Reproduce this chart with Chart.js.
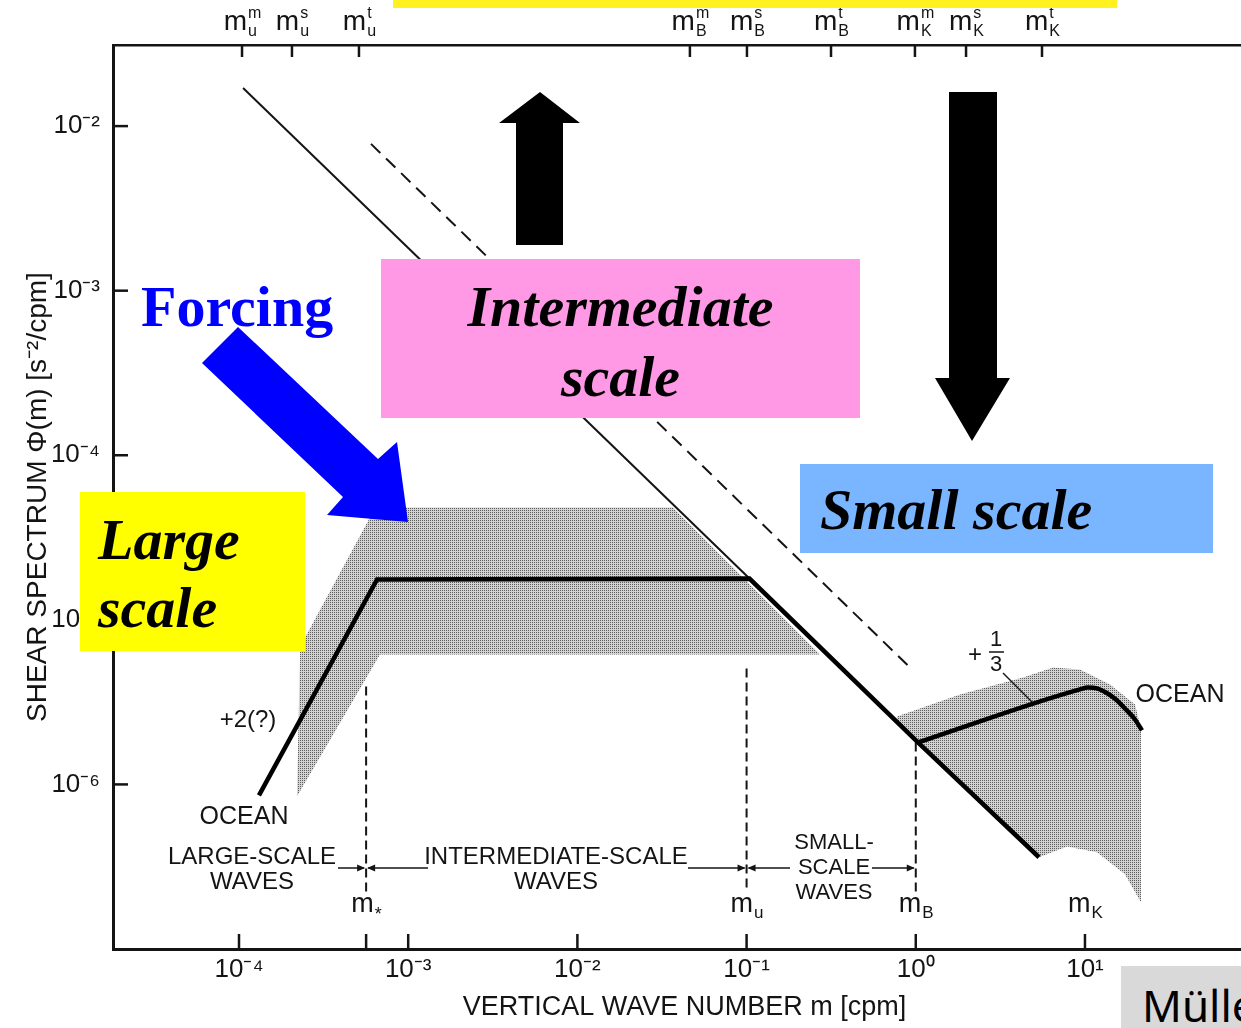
<!DOCTYPE html>
<html>
<head>
<meta charset="utf-8">
<script src="https://cdn.jsdelivr.net/npm/chart.js@4.4.1/dist/chart.umd.min.js"></script>
<style>
  html, body { margin: 0; padding: 0; background: #fff; }
  #wrap { position: relative; width: 1241px; height: 1028px; overflow: hidden; }
  #chart { position: absolute; left: 0; top: 0; }
  .box { position: absolute; }
  .lbl { position: absolute; font-family: "Liberation Serif", serif; font-weight: bold; font-style: italic;
         font-size: 58px; line-height: 58px; color: #000; white-space: nowrap; }
  #arrows { position: absolute; left: 0; top: 0; }
</style>
</head>
<body>
<div id="wrap">
  <canvas id="chart" width="1241" height="1028"></canvas>

  <div class="box" style="left:393px;top:0;width:724px;height:8px;background:#fff21f"></div>
  <div class="box" style="left:381px;top:259px;width:479px;height:159px;background:#ff99e6"></div>
  <div class="lbl" style="left:381px;width:479px;text-align:center;top:278px">Intermediate</div>
  <div class="lbl" style="left:381px;width:479px;text-align:center;top:348px">scale</div>
  <div class="box" style="left:800px;top:464px;width:413px;height:89px;background:#79b6ff"></div>
  <div class="lbl" style="left:820px;top:481px">Small scale</div>
  <div class="box" style="left:80px;top:492px;width:225px;height:159px;background:#ffff00"></div>
  <div class="lbl" style="left:98px;top:511px">Large</div>
  <div class="lbl" style="left:98px;top:579px">scale</div>
  <div class="lbl" style="left:141px;top:278px;font-style:normal;color:#0000ff">Forcing</div>
  <div class="box" style="left:1121px;top:966px;width:200px;height:62px;background:#d9d9d9"></div>
  <div class="box" style="left:1142px;top:983px;font-family:'Noto Sans',sans-serif;font-size:44px;line-height:44px;color:#000;white-space:nowrap">Müller et al.</div>

  <svg id="arrows" width="1241" height="1028">
    <polygon points="516,245 516,123 499,123 540,92 580,123 563,123 563,245" fill="#000"/>
    <polygon points="949,92 997,92 997,378 1010,378 972,441 935,378 949,378" fill="#000"/>
    <polygon points="238,327 378,459 397,442 408,522 327,515 343,497 202,363" fill="#0000ff"/>
  </svg>
</div>

<script>
// axis ranges and ticks
const xRange = [1.80e-5, 83.6];
const yRange = [1e-7, 3.11e-2];
const decadesX = [1e-4, 1e-3, 1e-2, 1e-1, 1, 10];
const decadesY = [1e-6, 1e-5, 1e-4, 1e-3, 1e-2];

// top axis marks (m with sub/sup script)
const topTickM = [1.042e-4, 2.056e-4, 5.117e-4, 4.624e-2, 0.1005, 0.3155, 0.9886, 1.982, 5.572];
const topTickSub = ['u', 'u', 'u', 'B', 'B', 'B', 'K', 'K', 'K'];
const topTickSup = ['m', 's', 't', 'm', 's', 't', 'm', 's', 't'];

// cutoff wavenumbers
const mStar = 5.64e-4, mU = 0.1, mB = 1.0, mK = 10;

// Garrett-Munk type -1 line (thin) and dashed parallel
const gmM = [1.057e-4, 0.104];
const gmPhi = [1.706e-2, 1.782e-5];
const dashM = [6.026e-4, 0.899];
const dashPhi = [7.80e-3, 5.28e-6];

// ocean spectrum (thick)
const oceanM = [1.312e-4, 6.546e-4, 0.104, 1.03, 5.35];
const oceanPhi = [8.57e-7, 1.758e-5, 1.78e-5, 1.80e-6, 3.61e-7];
const branchM = [1.03, 9.33, 10.42, 11.78, 13.31, 15.24, 17.46, 19.76, 21.73];
const branchPhi = [1.80e-6, 3.78e-6, 3.88e-6, 3.83e-6, 3.62e-6, 3.28e-6, 2.85e-6, 2.48e-6, 2.13e-6];

// shaded range of observations
const band1M = [2.20e-4, 2.30e-4, 5.94e-4, 6.64e-4, 3.67e-2, 0.2716, 6.81e-4, 2.20e-4];
const band1Phi = [8.45e-7, 6.89e-6, 4.18e-5, 4.81e-5, 4.81e-5, 6.15e-6, 6.15e-6, 8.45e-7];
const band2M = [0.774, 1.824, 4.30, 6.47, 9.34, 14.06, 19.77, 21.43, 21.43, 17.22, 11.78, 7.83, 5.35, 1.03, 0.774];
const band2Phi = [2.59e-6, 3.52e-6, 4.47e-6, 5.13e-6, 4.99e-6, 4.05e-6, 3.06e-6, 2.16e-6, 1.92e-7, 2.85e-7, 3.87e-7, 4.20e-7, 3.61e-7, 1.80e-6, 2.42e-6];

// vertical dashed cutoff lines
const cutTop = [3.94e-6, 5.06e-6, 1.80e-6];
const cutBottom = 2.21e-7;

const pts = (ms, ps) => ms.map((m, i) => ({ x: m, y: ps[i] }));
const supMap = { '-': '⁻', '0': '⁰', '1': '¹', '2': '²', '3': '³', '4': '⁴', '5': '⁵', '6': '⁶', '7': '⁷', '8': '⁸', '9': '⁹' };
const sup = n => String(n).split('').map(c => supMap[c]).join('');

// stipple pattern for shaded areas (dotted halftone look)
const pc = document.createElement('canvas');
pc.width = 2; pc.height = 2;
const pctx = pc.getContext('2d');
pctx.fillStyle = '#d2d2d2'; pctx.fillRect(0, 0, 2, 2);
pctx.fillStyle = '#5c5c5c'; pctx.fillRect(0, 0, 1, 1);
const stipple = pctx.createPattern(pc, 'repeat');

const INK = '#141414';
const FONT = 'Liberation Sans';

function cutLine(m, top) {
  return { data: [{ x: m, y: top }, { x: m, y: cutBottom }], borderColor: INK, borderWidth: 2,
           borderDash: [9, 5], pointRadius: 0, fill: false, order: 2 };
}

const sketch = {
  id: 'sketch',
  afterDraw(chart) {
    const { ctx, chartArea: a } = chart;
    const x = chart.scales.x, y = chart.scales.y, x2 = chart.scales.x2;
    const seg = (x1, y1, xb, yb) => { ctx.beginPath(); ctx.moveTo(x1, y1); ctx.lineTo(xb, yb); ctx.stroke(); };
    const head = (px, py, dir) => {
      ctx.beginPath(); ctx.moveTo(px, py); ctx.lineTo(px - dir * 8, py - 3.5); ctx.lineTo(px - dir * 8, py + 3.5);
      ctx.closePath(); ctx.fill();
    };
    const text = (s, px, py, size) => {
      ctx.font = size + 'px "' + FONT + '"'; ctx.textAlign = 'center'; ctx.textBaseline = 'middle';
      ctx.fillText(s, px, py);
    };
    const mLabel = (px, base, sub, supTxt, big, small, supUp, subDown) => {
      ctx.textAlign = 'left'; ctx.textBaseline = 'alphabetic';
      ctx.font = big + 'px "' + FONT + '"';
      const wm = ctx.measureText('m').width;
      ctx.font = small + 'px "' + FONT + '"';
      const ws = Math.max(ctx.measureText(sub).width, supTxt ? ctx.measureText(supTxt).width : 0);
      const x0 = px - (wm + ws) / 2;
      ctx.font = big + 'px "' + FONT + '"';
      ctx.fillText('m', x0, base);
      ctx.font = small + 'px "' + FONT + '"';
      if (supTxt) ctx.fillText(supTxt, x0 + wm + 1, base - supUp);
      ctx.fillText(sub, x0 + wm + 1, base + subDown);
    };

    ctx.save();
    ctx.strokeStyle = INK; ctx.fillStyle = INK;

    // inward tick marks
    ctx.lineWidth = 2.5;
    decadesY.forEach(v => { const py = y.getPixelForValue(v); seg(a.left, py, a.left + 15, py); });
    decadesX.concat([mStar]).forEach(v => { const px = x.getPixelForValue(v); seg(px, a.bottom, px, a.bottom - 15); });
    topTickM.forEach(v => { const px = x2.getPixelForValue(v); seg(px, a.top, px, a.top + 12); });

    // top axis labels
    topTickM.forEach((v, i) => mLabel(x2.getPixelForValue(v), 30, topTickSub[i], topTickSup[i], 28, 16, 12, 6));

    // cutoff labels
    const xs = x.getPixelForValue(mStar), xu = x.getPixelForValue(mU), xb = x.getPixelForValue(mB), xk = x.getPixelForValue(mK);
    mLabel(xs, 912, '*', null, 27, 18, 0, 8);
    mLabel(xu, 912, 'u', null, 27, 17, 0, 6);
    mLabel(xb, 912, 'B', null, 27, 17, 0, 6);
    mLabel(xk, 912, 'K', null, 27, 17, 0, 6);

    // wave regime labels with arrows
    text('LARGE-SCALE', 252, 857, 24);
    text('WAVES', 252, 882, 24);
    text('INTERMEDIATE-SCALE', 556, 857, 24);
    text('WAVES', 556, 882, 24);
    text('SMALL-', 834, 843, 22);
    text('SCALE', 834, 868, 22);
    text('WAVES', 834, 893, 22);
    ctx.lineWidth = 1.5;
    seg(338, 868, xs - 2, 868); head(xs - 1, 868, 1);
    seg(xs + 2, 868, 428, 868); head(xs + 1, 868, -1);
    seg(688, 868, xu - 2, 868); head(xu - 1, 868, 1);
    seg(xu + 2, 868, 790, 868); head(xu + 1, 868, -1);
    seg(872, 868, xb - 2, 868); head(xb - 1, 868, 1);

    // slope and ocean labels
    text('+2(?)', 248, 720, 24);
    text('OCEAN', 244, 817, 25);
    text('OCEAN', 1180, 695, 25);
    text('+', 975, 655, 24);
    text('1', 996, 640, 22);
    text('3', 996, 665, 22);
    ctx.lineWidth = 1.5;
    seg(989, 652, 1004, 652);
    seg(1003, 673, 1032, 702);

    ctx.restore();
  }
};

new Chart(document.getElementById('chart'), {
  type: 'line',
  data: {
    datasets: [
      { data: pts(band1M, band1Phi), borderWidth: 0, backgroundColor: stipple, fill: 'shape', pointRadius: 0, order: 10 },
      { data: pts(band2M, band2Phi), borderWidth: 0, backgroundColor: stipple, fill: 'shape', pointRadius: 0, order: 10 },
      { data: pts(gmM, gmPhi), borderColor: INK, borderWidth: 2, pointRadius: 0, fill: false, order: 3 },
      { data: pts(dashM, dashPhi), borderColor: INK, borderWidth: 2, borderDash: [13, 8], pointRadius: 0, fill: false, order: 3 },
      { data: pts(oceanM, oceanPhi), borderColor: '#000', borderWidth: 4.5, pointRadius: 0, fill: false, order: 1 },
      { data: pts(branchM, branchPhi), borderColor: '#000', borderWidth: 4.5, pointRadius: 0, fill: false,
        cubicInterpolationMode: 'monotone', order: 1 },
      cutLine(mStar, cutTop[0]),
      cutLine(mU, cutTop[1]),
      cutLine(mB, cutTop[2])
    ]
  },
  options: {
    responsive: false,
    animation: false,
    events: [],
    layout: { padding: 0 },
    plugins: { legend: { display: false }, tooltip: { enabled: false } },
    scales: {
      x: {
        type: 'logarithmic', position: 'bottom', min: xRange[0], max: xRange[1],
        afterBuildTicks: s => { s.ticks = decadesX.map(v => ({ value: v })); },
        afterFit: s => { s.height = 79; },
        grid: { display: false, drawTicks: false },
        border: { display: true, color: INK, width: 3 },
        ticks: { autoSkip: false, maxRotation: 0, padding: 5, color: INK, font: { family: FONT, size: 26 },
                 callback: v => '10' + sup(Math.round(Math.log10(v))) },
        title: { display: true, text: '  VERTICAL WAVE NUMBER m [cpm]', color: INK,
                 font: { family: FONT, size: 27 }, padding: { top: 0, bottom: 4 } }
      },
      x2: {
        type: 'logarithmic', position: 'top', min: xRange[0], max: xRange[1],
        afterBuildTicks: s => { s.ticks = topTickM.map(v => ({ value: v })); },
        afterFit: s => { s.height = 45; },
        grid: { display: false, drawTicks: false },
        border: { display: true, color: INK, width: 2.5 },
        ticks: { display: false }
      },
      y: {
        type: 'logarithmic', position: 'left', min: yRange[0], max: yRange[1],
        afterBuildTicks: s => { s.ticks = decadesY.map(v => ({ value: v })); },
        afterFit: s => { s.width = 113; },
        grid: { display: false, drawTicks: false },
        border: { display: true, color: INK, width: 3 },
        ticks: { autoSkip: false, padding: 13, color: INK, font: { family: FONT, size: 26 },
                 callback: v => '10' + sup(Math.round(Math.log10(v))) },
        title: { display: true, text: 'SHEAR SPECTRUM Φ(m) [s⁻²/cpm]', color: INK,
                 font: { family: FONT, size: 28 }, padding: { top: 21, bottom: 0 } }
      }
    }
  },
  plugins: [sketch]
});
</script>
</body>
</html>
